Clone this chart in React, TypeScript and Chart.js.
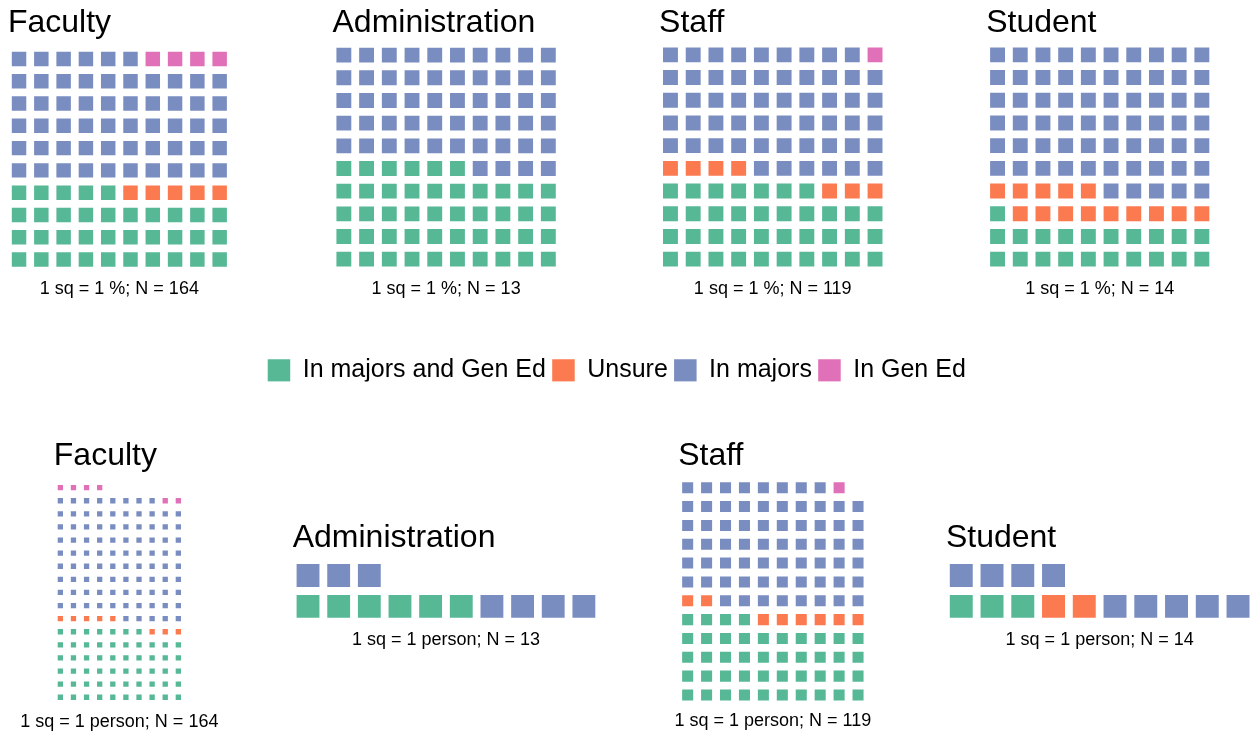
import React, { useEffect, useRef } from "react";
import { Chart, registerables } from "chart.js";

Chart.register(...registerables);

// ---------------- DATA ----------------
const groups = ["Faculty", "Administration", "Staff", "Student"];
const groupN = [164, 13, 119, 14];
const categories = ["In majors and Gen Ed", "Unsure", "In majors", "In Gen Ed"];
const categoryColors = ["#56B894", "#FC7A50", "#7A8DC0", "#E070B7"];

// 1 sq = 1 %
const pctMajorsAndGenEd = [35, 46, 37, 21];
const pctUnsure = [5, 0, 7, 14];
const pctMajors = [56, 54, 55, 65];
const pctGenEd = [4, 0, 1, 0];

// 1 sq = 1 person
const nMajorsAndGenEd = [57, 6, 44, 3];
const nUnsure = [8, 0, 8, 2];
const nMajors = [93, 7, 66, 9];
const nGenEd = [6, 0, 1, 0];

const COLS = 10;

// ---------------- LAYOUT (grid boxes, title/caption baselines) ----------------
const topLayout = [
  { gl: 7.9, gt: 47.9, gr: 230.8, gb: 270.6, tb: 31.7, cb: 294 },
  { gl: 332.5, gt: 43.8, gr: 559.7, gb: 270.5, tb: 31.7, cb: 294 },
  { gl: 659.1, gt: 43.5, gr: 886.4, gb: 270.5, tb: 31.7, cb: 294 },
  { gl: 986.2, gt: 43.5, gr: 1213.2, gb: 270.5, tb: 31.7, cb: 294 },
];
const bottomLayout = [
  { gl: 53.8, gt: 481.1, gr: 184.9, gb: 703.8, tb: 465, cb: 726.5 },
  { gl: 292.7, gt: 560, gr: 599.2, gb: 621.8, tb: 547.3, cb: 645 },
  { gl: 678.2, gt: 478.3, gr: 867.5, gb: 704.4, tb: 465, cb: 726 },
  { gl: 945.9, gt: 560, gr: 1253.4, gb: 621.8, tb: 547, cb: 645 },
];

const FONT = '"Liberation Sans", Arial, Helvetica, sans-serif';
const GAP = 7.8;

function waffleCells(counts: number[], cols: number) {
  const out: { x: number; y: number }[][] = counts.map(() => []);
  let i = 0;
  counts.forEach((c, k) => {
    for (let j = 0; j < c; j++, i++) {
      out[k].push({ x: (i % cols) + 1, y: Math.floor(i / cols) + 1 });
    }
  });
  return out;
}

const panelText = {
  id: "panelText",
  afterDraw(chart: any, _args: any, opts: any) {
    const { ctx, chartArea } = chart;
    ctx.save();
    ctx.fillStyle = "#000";
    ctx.textBaseline = "alphabetic";
    ctx.textAlign = "left";
    ctx.font = `32px ${FONT}`;
    ctx.fillText(opts.title, chartArea.left, opts.titleY);
    ctx.textAlign = "center";
    ctx.font = `18px ${FONT}`;
    ctx.fillText(opts.caption, (chartArea.left + chartArea.right) / 2, opts.captionY);
    ctx.restore();
  },
};

const squareRadius = (c: any) => {
  const chart = c.chart;
  const xs = chart.scales.x;
  const ys = chart.scales.y;
  if (!xs || !ys) return 4;
  const px = Math.min(
    Math.abs(xs.getPixelForValue(1) - xs.getPixelForValue(0)),
    Math.abs(ys.getPixelForValue(1) - ys.getPixelForValue(0))
  );
  return Math.max(px - GAP, 1) / Math.SQRT2;
};

type Geo = { gl: number; gt: number; gr: number; gb: number; tb: number; cb: number };

function WafflePanel({ counts, title, caption, geo }: { counts: number[]; title: string; caption: string; geo: Geo }) {
  const ref = useRef<HTMLCanvasElement | null>(null);
  const left = Math.floor(geo.gl - 45);
  const top = Math.floor(geo.tb - 34);
  const right = Math.ceil(geo.gr + 45);
  const bottom = Math.ceil(geo.cb + 8);
  const width = right - left;
  const height = bottom - top;

  useEffect(() => {
    if (!ref.current) return;
    const total = counts.reduce((a, b) => a + b, 0);
    const rows = Math.ceil(total / COLS);
    const cells = waffleCells(counts, COLS);
    const datasets = categories.map((label, k) => ({
      label,
      data: cells[k],
      backgroundColor: categoryColors[k],
      borderColor: categoryColors[k],
      pointStyle: "rect" as const,
      pointRadius: squareRadius,
      pointHoverRadius: squareRadius,
      pointBorderWidth: 0,
    }));
    const chart = new Chart(ref.current, {
      type: "scatter",
      data: { datasets },
      options: {
        animation: false,
        responsive: false,
        events: [],
        layout: {
          padding: {
            left: geo.gl - left,
            right: right - geo.gr,
            top: geo.gt - top,
            bottom: bottom - geo.gb,
          },
        },
        plugins: {
          legend: { display: false },
          tooltip: { enabled: false },
          title: { display: false },
          panelText: { title, caption, titleY: geo.tb - top, captionY: geo.cb - top },
        } as any,
        scales: {
          x: { type: "linear", min: 0.5, max: COLS + 0.5, display: false },
          y: { type: "linear", min: 0.5, max: rows + 0.5, display: false },
        },
      },
      plugins: [panelText],
    });
    return () => chart.destroy();
  }, []);

  return (
    <canvas
      ref={ref}
      width={width}
      height={height}
      style={{ position: "absolute", left, top, width, height }}
    />
  );
}

function LegendChart() {
  const ref = useRef<HTMLCanvasElement | null>(null);
  const left = 117;
  const top = 351;
  const width = 1000;
  const height = 60;
  useEffect(() => {
    if (!ref.current) return;
    const chart = new Chart(ref.current, {
      type: "scatter",
      data: {
        datasets: categories.map((label, k) => ({
          label,
          data: [],
          backgroundColor: categoryColors[k],
          borderColor: categoryColors[k],
          borderWidth: 0,
        })),
      },
      options: {
        animation: false,
        responsive: false,
        events: [],
        layout: { padding: { left: 0, right: 0.5, top: 0.75, bottom: 0 } },
        plugins: {
          legend: {
            display: true,
            position: "top",
            align: "center",
            labels: {
              boxWidth: 22.5,
              boxHeight: 22.5,
              padding: 6.3,
              color: "#000",
              font: { size: 25, family: FONT },
            },
          },
          tooltip: { enabled: false },
        },
        scales: {
          x: { display: false },
          y: { display: false },
        },
      },
    });
    return () => chart.destroy();
  }, []);
  return (
    <canvas
      ref={ref}
      width={width}
      height={height}
      style={{ position: "absolute", left, top, width, height }}
    />
  );
}

export default function App() {
  return (
    <div
      style={{
        position: "absolute",
        left: 0,
        top: 0,
        width: 1256,
        height: 735,
        overflow: "hidden",
        background: "#fff",
      }}
    >
      {groups.map((g, i) => (
        <WafflePanel
          key={"pct-" + g}
          title={g}
          caption={`1 sq = 1 %; N = ${groupN[i]}`}
          counts={[pctMajorsAndGenEd[i], pctUnsure[i], pctMajors[i], pctGenEd[i]]}
          geo={topLayout[i]}
        />
      ))}
      <LegendChart />
      {groups.map((g, i) => (
        <WafflePanel
          key={"n-" + g}
          title={g}
          caption={`1 sq = 1 person; N = ${groupN[i]}`}
          counts={[nMajorsAndGenEd[i], nUnsure[i], nMajors[i], nGenEd[i]]}
          geo={bottomLayout[i]}
        />
      ))}
    </div>
  );
}
